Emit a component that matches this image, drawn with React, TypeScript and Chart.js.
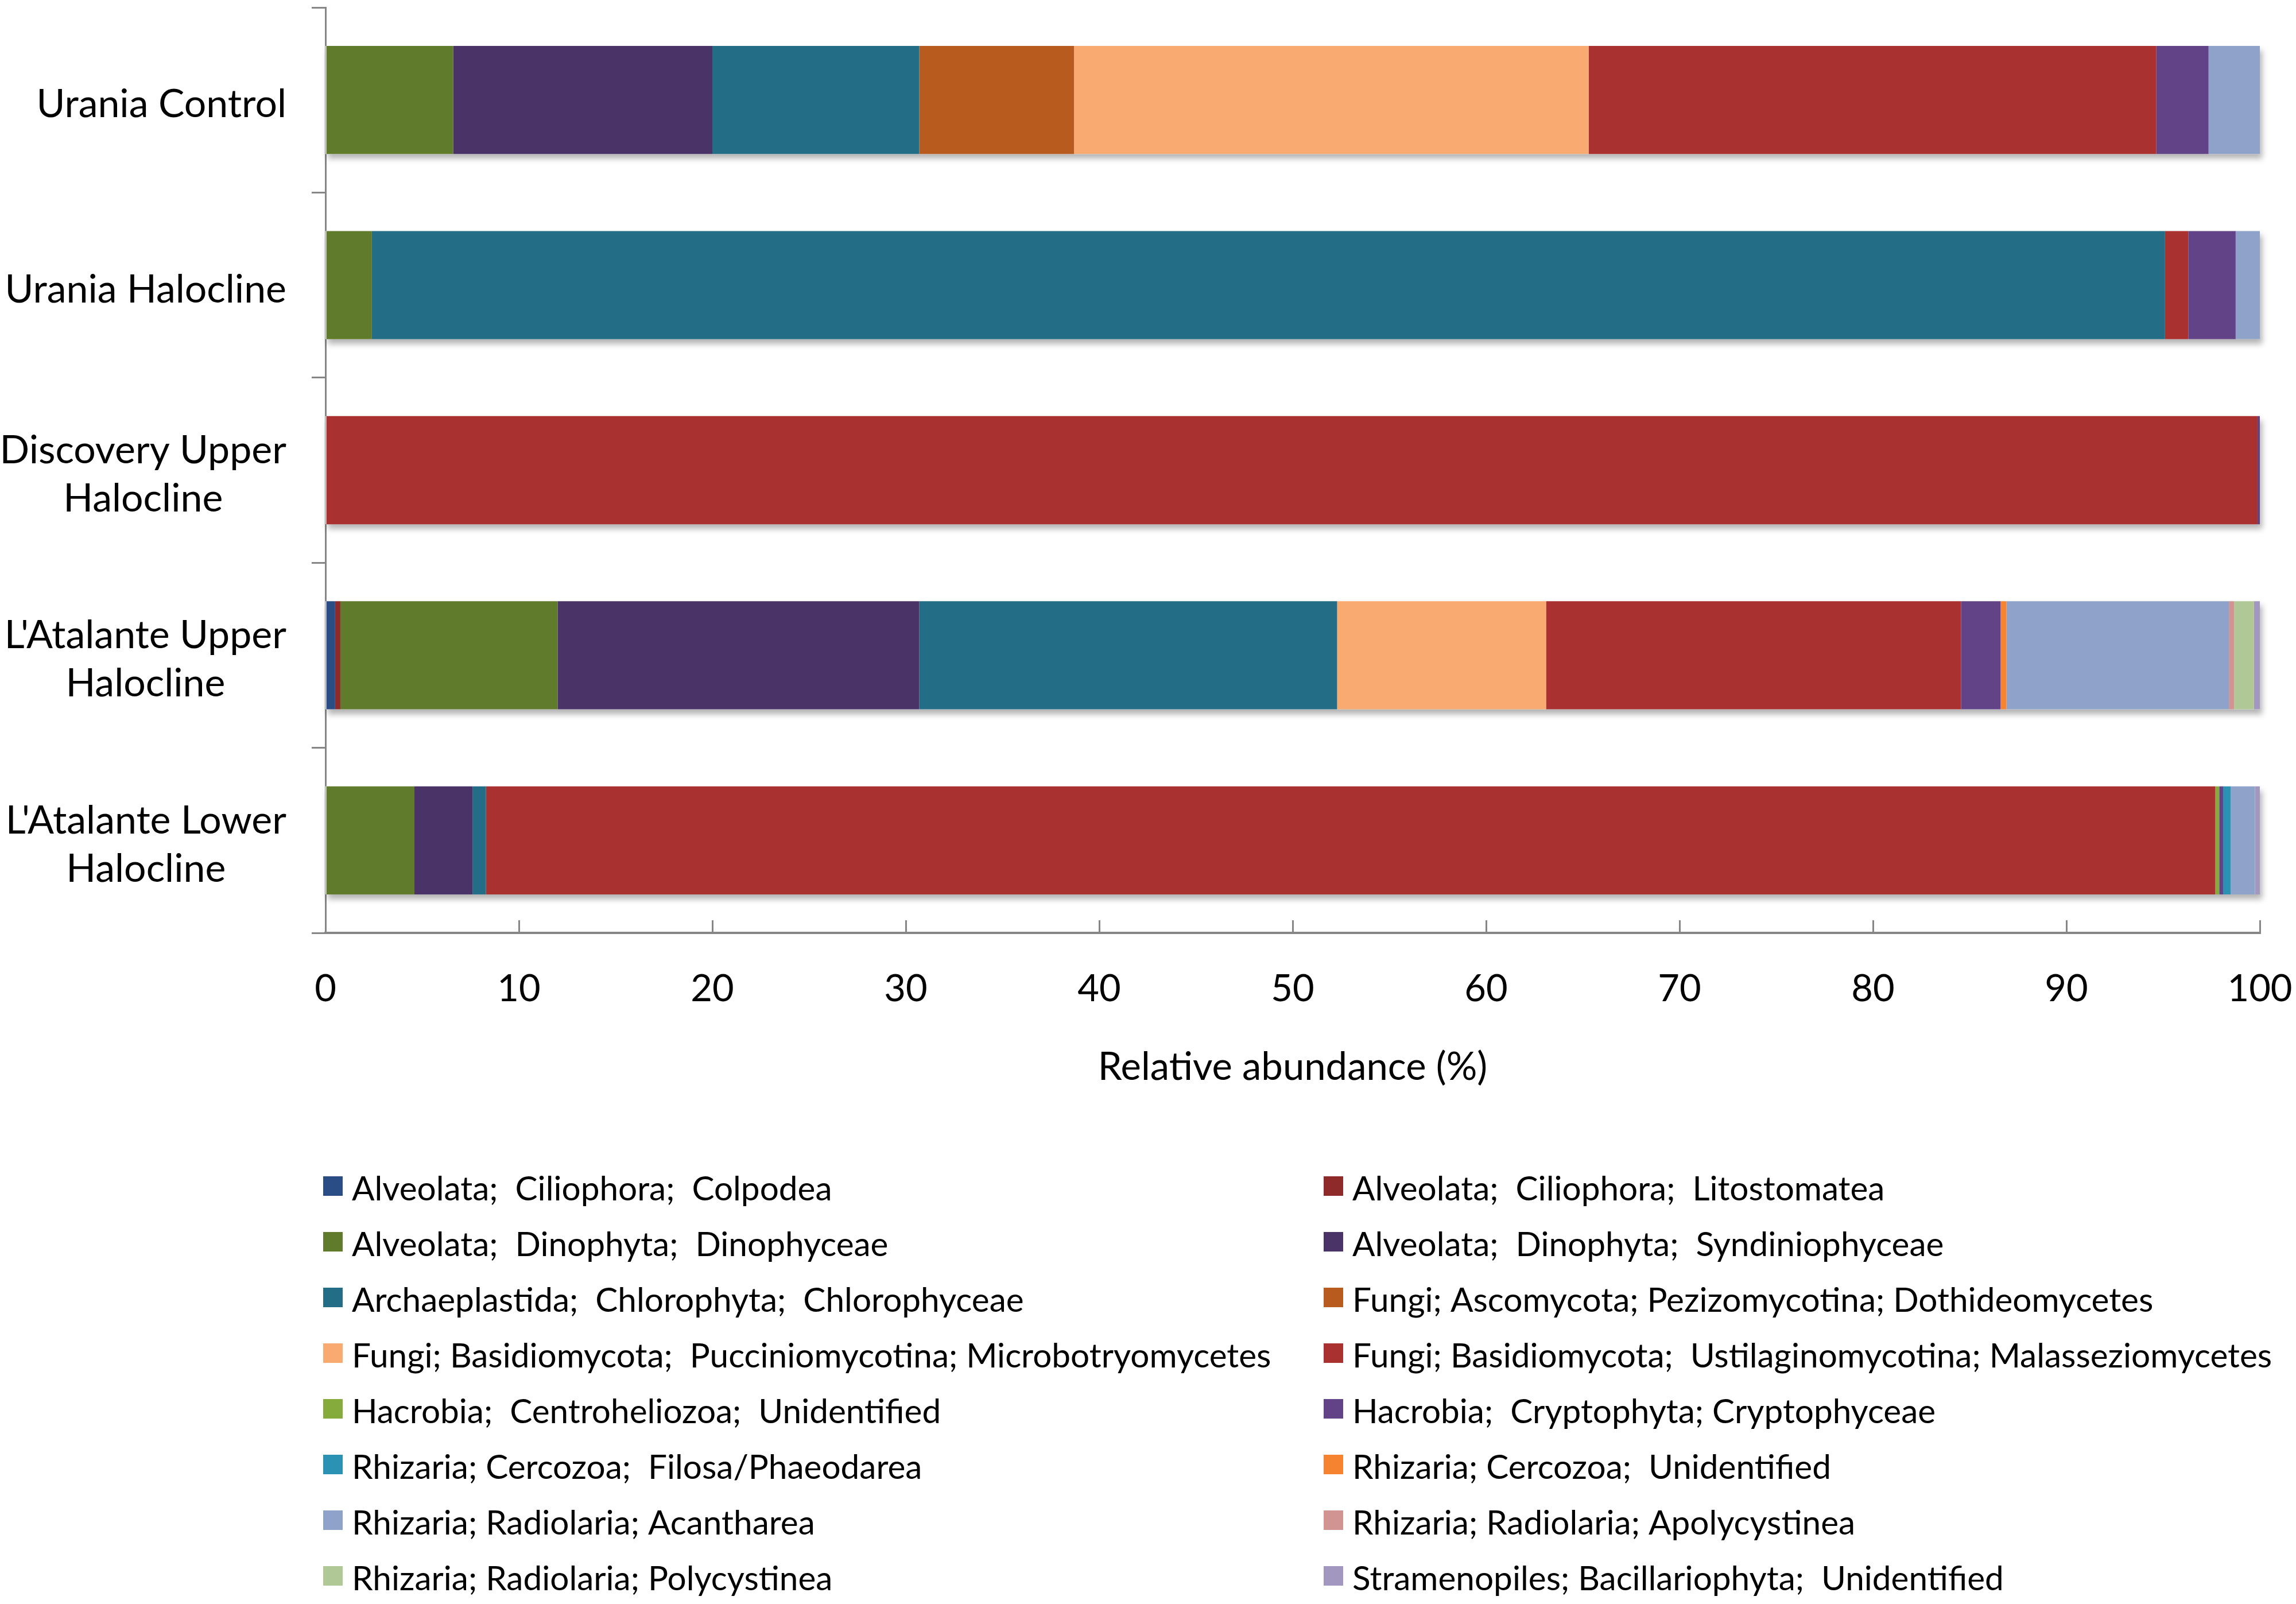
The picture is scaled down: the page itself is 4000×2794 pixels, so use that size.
import React, { useEffect, useRef } from 'react';
import { Chart, registerables } from 'chart.js';

Chart.register(...registerables);

// ---------- data ----------
const categories: (string | string[])[] = [
  'Urania Control',
  'Urania Halocline',
  ['Discovery Upper', 'Halocline'],
  ["L'Atalante Upper", 'Halocline'],
  ["L'Atalante Lower", 'Halocline'],
];

const seriesLabels = [
  'Alveolata;  Ciliophora;  Colpodea',
  'Alveolata;  Ciliophora;  Litostomatea',
  'Alveolata;  Dinophyta;  Dinophyceae',
  'Alveolata;  Dinophyta;  Syndiniophyceae',
  'Archaeplastida;  Chlorophyta;  Chlorophyceae',
  'Fungi; Ascomycota; Pezizomycotina; Dothideomycetes',
  'Fungi; Basidiomycota;  Pucciniomycotina; Microbotryomycetes',
  'Fungi; Basidiomycota;  Ustilaginomycotina; Malasseziomycetes',
  'Hacrobia;  Centroheliozoa;  Unidentified',
  'Hacrobia;  Cryptophyta; Cryptophyceae',
  'Rhizaria; Cercozoa;  Filosa/Phaeodarea',
  'Rhizaria; Cercozoa;  Unidentified',
  'Rhizaria; Radiolaria; Acantharea',
  'Rhizaria; Radiolaria; Apolycystinea',
  'Rhizaria; Radiolaria; Polycystinea',
  'Stramenopiles; Bacillariophyta;  Unidentified',
];

const colpodea = [0, 0, 0, 0.5, 0];
const litostomatea = [0, 0, 0, 0.27, 0];
const dinophyceae = [6.6, 2.4, 0, 11.23, 4.6];
const syndiniophyceae = [13.4, 0, 0, 18.7, 3.0];
const chlorophyceae = [10.7, 92.7, 0, 21.6, 0.7];
const dothideomycetes = [8.0, 0, 0, 0, 0];
const microbotryomycetes = [26.6, 0, 0, 10.8, 0];
const malasseziomycetes = [29.35, 1.2, 99.88, 21.45, 89.4];
const centroheliozoa = [0, 0, 0, 0, 0.2];
const cryptophyceae = [2.7, 2.45, 0.12, 2.05, 0.2];
const filosaPhaeodarea = [0, 0, 0, 0, 0.4];
const cercozoaUnidentified = [0, 0, 0, 0.3, 0];
const acantharea = [2.65, 1.25, 0, 11.5, 1.25];
const apolycystinea = [0, 0, 0, 0.27, 0];
const polycystinea = [0, 0, 0, 1.03, 0];
const bacillariophyta = [0, 0, 0, 0.3, 0.25];

const seriesValues = [
  colpodea, litostomatea, dinophyceae, syndiniophyceae, chlorophyceae,
  dothideomycetes, microbotryomycetes, malasseziomycetes, centroheliozoa,
  cryptophyceae, filosaPhaeodarea, cercozoaUnidentified, acantharea,
  apolycystinea, polycystinea, bacillariophyta,
];

const seriesColors = [
  '#2A4D86', '#8E2A2A', '#617B2C', '#4A3367', '#236D87', '#B85B1F',
  '#F8AA70', '#A93130', '#84AB3C', '#634387', '#2B92B4', '#F5832F',
  '#8FA3CA', '#D19492', '#AFC896', '#A197BF',
];

const xTickValues = [0, 10, 20, 30, 40, 50, 60, 70, 80, 90, 100];
const xTitle = 'Relative abundance (%)';

// ---------- styling ----------
const FONT = 'Lato';
const AXIS_COLOR = '#868686';
const LEGEND_FONT_SIZE = 58.5;
const Y_LABEL_FONT_SIZE = 68;
const Y_LABEL_LINE = 84;

const shadowPlugin = {
  id: 'barShadow',
  beforeDatasetsDraw(chart: any) {
    const ctx = chart.ctx;
    const xs = chart.scales.x;
    const meta0 = chart.getDatasetMeta(0);
    ctx.save();
    ctx.shadowColor = 'rgba(0,0,0,0.3)';
    ctx.shadowBlur = 10;
    ctx.shadowOffsetX = 4;
    ctx.shadowOffsetY = 8;
    ctx.fillStyle = '#ffffff';
    chart.data.labels.forEach((_: any, i: number) => {
      const total = chart.data.datasets.reduce((s: number, d: any) => s + (d.data[i] as number), 0);
      const el = meta0.data[i];
      if (!el) return;
      const h = el.height;
      const x0 = xs.getPixelForValue(0);
      const x1 = xs.getPixelForValue(total);
      ctx.fillRect(x0, el.y - h / 2, x1 - x0, h);
    });
    ctx.restore();
  },
};

// Category labels: each block right-aligned to the axis, lines centred within the block
const categoryLabelPlugin = {
  id: 'categoryBlockLabels',
  afterDraw(chart: any) {
    const ctx = chart.ctx;
    const ys = chart.scales.y;
    ctx.save();
    ctx.font = `${Y_LABEL_FONT_SIZE}px ${FONT}`;
    ctx.fillStyle = '#000000';
    ctx.textAlign = 'center';
    ctx.textBaseline = 'middle';
    chart.data.labels.forEach((lab: any, i: number) => {
      const lines: string[] = Array.isArray(lab) ? lab : [lab];
      const w = Math.max(...lines.map((l) => ctx.measureText(l).width));
      const cx = ys.right - 68 - w / 2;
      const cy = ys.getPixelForTick(i) + 8;
      lines.forEach((l, j) => {
        ctx.fillText(l, cx, cy + (j - (lines.length - 1) / 2) * Y_LABEL_LINE);
      });
    });
    ctx.restore();
  },
};

const legendPlugin = {
  id: 'twoColumnLegend',
  afterDraw(chart: any) {
    const ctx = chart.ctx;
    const left = chart.chartArea.left;
    const colX = [left - 4, left + 1739];
    const firstRowTop = 2049;
    const rowStep = 97;
    const box = 34;
    ctx.save();
    ctx.font = `${LEGEND_FONT_SIZE}px ${FONT}`;
    ctx.textBaseline = 'alphabetic';
    ctx.textAlign = 'left';
    chart.data.datasets.forEach((ds: any, i: number) => {
      const col = i % 2;
      const row = Math.floor(i / 2);
      const bx = colX[col];
      const by = firstRowTop + row * rowStep;
      ctx.fillStyle = ds.backgroundColor;
      ctx.fillRect(bx, by, box, box);
      ctx.fillStyle = '#000000';
      ctx.fillText(ds.label, bx + 50, by + 42);
    });
    ctx.restore();
  },
};

export default function App() {
  const canvasRef = useRef<HTMLCanvasElement>(null);

  useEffect(() => {
    if (!canvasRef.current) return;
    const chart = new Chart(canvasRef.current, {
      type: 'bar',
      data: {
        labels: categories as any,
        datasets: seriesLabels.map((label, i) => ({
          label,
          data: seriesValues[i],
          backgroundColor: seriesColors[i],
          borderWidth: 0,
          categoryPercentage: 1,
          barPercentage: 0.584,
        })),
      },
      options: {
        indexAxis: 'y',
        responsive: false,
        devicePixelRatio: 1,
        animation: false,
        layout: { padding: { top: 13, right: 63, left: 0, bottom: 869 } },
        plugins: {
          legend: { display: false },
          tooltip: { enabled: false },
          title: { display: false },
        },
        scales: {
          x: {
            type: 'linear',
            stacked: true,
            min: 0,
            max: 100,
            afterBuildTicks: (s: any) => {
              s.ticks = xTickValues.map((v) => ({ value: v }));
            },
            afterFit: (s: any) => {
              s.height = 300;
              s.paddingLeft = 0;
              s.paddingRight = 0;
            },
            ticks: {
              stepSize: 10,
              maxRotation: 0,
              autoSkip: false,
              padding: 81,
              color: '#000000',
              font: { family: FONT, size: 65, lineHeight: 1.2 },
            },
            grid: {
              drawOnChartArea: false,
              drawTicks: true,
              tickLength: -22,
              tickColor: AXIS_COLOR,
              tickWidth: 3,
              color: AXIS_COLOR,
              lineWidth: 3,
            },
            border: { display: true, color: AXIS_COLOR, width: 4 },
            title: {
              display: true,
              text: xTitle,
              color: '#000000',
              font: { family: FONT, size: 67, lineHeight: 1.2 },
              padding: { top: 0, bottom: 25 },
            },
          },
          y: {
            type: 'category',
            stacked: true,
            offset: true,
            afterFit: (s: any) => {
              s.width = 567;
              s.paddingTop = 0;
              s.paddingBottom = 0;
            },
            ticks: {
              display: false,
            },
            grid: {
              offset: true,
              drawOnChartArea: false,
              drawTicks: true,
              tickLength: 24,
              tickColor: AXIS_COLOR,
              tickWidth: 3,
              color: AXIS_COLOR,
              lineWidth: 3,
            },
            border: { display: true, color: AXIS_COLOR, width: 3 },
          },
        },
      } as any,
      plugins: [shadowPlugin, categoryLabelPlugin, legendPlugin],
    });
    return () => chart.destroy();
  }, []);

  return (
    <div style={{ position: 'absolute', left: 0, top: 0, width: 4000, height: 2794, background: '#ffffff' }}>
      <canvas ref={canvasRef} width={4000} height={2794} style={{ display: 'block', width: 4000, height: 2794 }} />
    </div>
  );
}
